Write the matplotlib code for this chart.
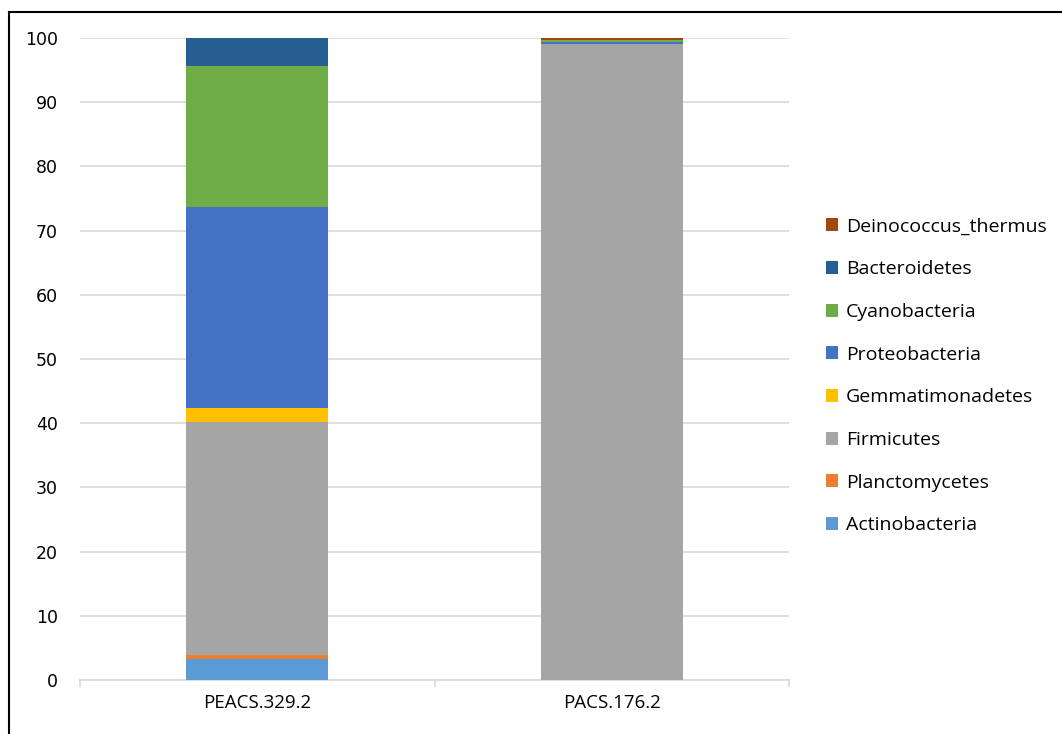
import numpy as np
import matplotlib
matplotlib.use("Agg")
import matplotlib.pyplot as plt
from matplotlib.lines import Line2D

samples = ["PEACS.329.2", "PACS.176.2"]
phyla = ["Actinobacteria", "Planctomycetes", "Firmicutes", "Gemmatimonadetes",
         "Proteobacteria", "Cyanobacteria", "Bacteroidetes", "Deinococcus_thermus"]
colors = ["#5B9BD5", "#ED7D31", "#A5A5A5", "#FFC000",
          "#4472C4", "#70AD47", "#255E91", "#9E480E"]

# relative abundance (%) per sample, same order as phyla
actinobacteria = [3.3, 0.0]
planctomycetes = [0.6, 0.0]
firmicutes = [36.3, 99.0]
gemmatimonadetes = [2.2, 0.0]
proteobacteria = [31.3, 0.3]
cyanobacteria = [21.9, 0.45]
bacteroidetes = [4.4, 0.0]
deinococcus_thermus = [0.0, 0.25]

values = [actinobacteria, planctomycetes, firmicutes, gemmatimonadetes,
          proteobacteria, cyanobacteria, bacteroidetes, deinococcus_thermus]

fig = plt.figure(figsize=(10.62, 7.34), dpi=100)
ax = fig.add_axes([80 / 1062, 1 - 680 / 734, 709 / 1062, 642 / 734])

x = np.arange(len(samples))
bottom = np.zeros(len(samples))
handles = []
for name, vals, c in zip(phyla, values, colors):
    vals = np.array(vals)
    b = ax.bar(x, vals, 0.4, bottom=bottom, color=c, label=name, zorder=3)
    bottom += vals
    handles.append(b)

ax.set_xlim(-0.5, 1.5)
ax.set_ylim(0, 100)
ax.set_yticks(np.arange(0, 101, 10))
ax.yaxis.grid(True, color="#d9d9d9", linewidth=1.2, zorder=0)
ax.set_axisbelow(True)
for s in ["top", "right", "left"]:
    ax.spines[s].set_visible(False)
ax.spines["bottom"].set_color("#d9d9d9")
ax.spines["bottom"].set_linewidth(1.2)
ax.tick_params(axis="y", length=0, pad=16, labelsize=12.5)
ax.set_xticks(x)
ax.set_xticklabels(samples, fontsize=13.5, family="Open Sans")
ax.tick_params(axis="x", length=0, pad=10)
for xb in [-0.5, 0.5, 1.5]:
    ax.plot([xb, xb], [0, -1.0], color="#d9d9d9", lw=1.2, clip_on=False)

leg = fig.legend(handles[::-1], phyla[::-1], loc="upper left",
                 bbox_to_anchor=(808 / 1062, 1 - 200 / 734), frameon=False,
                 prop={"family": "Open Sans", "size": 14},
                 handlelength=0.65, handleheight=0.65, handletextpad=0.4,
                 labelspacing=1.27)

# figure border on left and top
fig.add_artist(Line2D([8.5 / 1062, 8.5 / 1062], [0, 1 - 11.5 / 734], color="black", lw=1.5))
fig.add_artist(Line2D([8.5 / 1062, 1], [1 - 11.5 / 734, 1 - 11.5 / 734], color="black", lw=1.5))

fig.savefig("out.png", dpi=100)
